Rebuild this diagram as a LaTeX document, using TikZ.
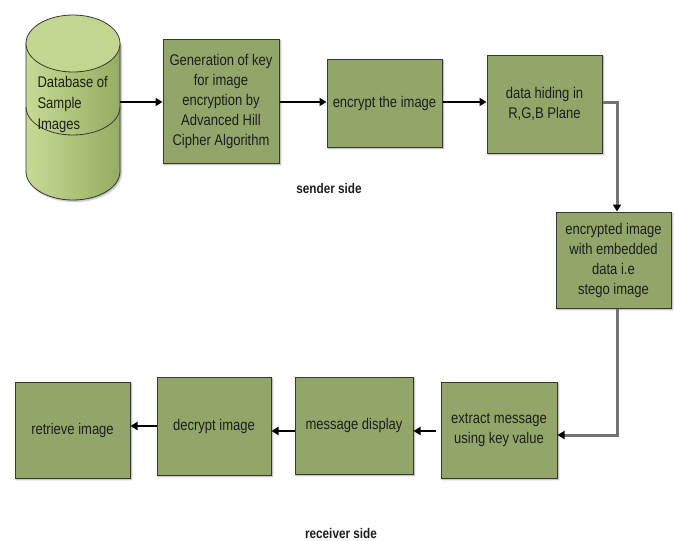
\documentclass[tikz,border=0pt]{standalone}
\usepackage{fontspec}
\setmainfont{Liberation Sans}[FakeStretch=0.84]
\usetikzlibrary{arrows.meta, positioning, shadows.blur}
\definecolor{colorBox}{RGB}{146,166,106}
\definecolor{colorEdge}{RGB}{55,55,55}
\definecolor{colorLink}{RGB}{115,115,115}
\definecolor{colorDbLight}{RGB}{198,218,148}
\definecolor{colorDbDark}{RGB}{150,172,98}
\definecolor{colorDbTop}{RGB}{194,214,144}
\definecolor{labelColor}{RGB}{30,30,30}

\begin{document}
\begin{tikzpicture}[
    x=1pt, y=-1pt,
    every node/.style={font=\fontsize{15.5}{20}\selectfont, text=labelColor},
    block/.style={
        draw=colorEdge, line width=1pt, fill=colorBox, align=center,
        inner sep=0pt, minimum width=115, minimum height=96,
        blur shadow={shadow xshift=1.5pt, shadow yshift=-1.5pt, shadow blur radius=1.5pt, shadow opacity=35}
    },
    flow/.style={-{Triangle[length=7pt, width=8pt]}, line width=1.8pt, color=black},
    link/.style={-{Triangle[length=7pt, width=8pt, color=black]}, line width=3pt, color=colorLink},
    side/.style={font=\fontsize{14}{16}\selectfont\bfseries}
]
    \useasboundingbox (0,0) rectangle (675,541);

    % Database cylinder, drawn by hand
    \shade[left color=colorDbLight, right color=colorDbDark, draw=colorEdge, line width=.8pt,
        blur shadow={shadow xshift=1.5pt, shadow yshift=-1.5pt, shadow blur radius=1.5pt, shadow opacity=30}]
        (26,43.5) -- (26,171.5) arc[start angle=180, end angle=0, x radius=47, y radius=28.5]
        -- (120,43.5) -- cycle;
    \filldraw[fill=colorDbTop, draw=colorEdge, line width=.8pt] (73,43.5) ellipse[x radius=47, y radius=28.5];
    \draw[colorEdge, line width=.8pt] (26,107) arc[start angle=180, end angle=0, x radius=47, y radius=28];
    \node[minimum width=94, minimum height=185, inner sep=0pt] (db) at (73,107.5) {};
    \node[anchor=west, align=left, font=\fontsize{15.5}{21}\selectfont] (dbtext) at (34,104) {Database of\\Sample\\Images};

    % Sender side
    \node[block, minimum width=116, minimum height=124] (keygen) at (221,101)
        {Generation of key\\for image\\encryption by\\Advanced Hill\\Cipher Algorithm};
    \node[block, minimum height=88] (encrypt) at (384.5,103) {encrypt the image};
    \node[block, minimum height=98] (hide) at (544.5,104) {data hiding in\\R,G,B Plane};
    \node[block] (stego) at (613.5,260) {encrypted image\\with embedded\\data i.e\\stego image};
    \node[side] (sender) at (329,188) {sender side};

    % Receiver side
    \node[block, minimum width=116] (extract) at (499,430) {extract message\\using key value};
    \node[block, minimum width=118, minimum height=97] (message) at (354,425.5) {message display};
    \node[block, minimum width=114, minimum height=98] (decrypt) at (214,426) {decrypt image};
    \node[block] (retrieve) at (72.5,430) {retrieve image};
    \node[side] (receiver) at (341,533) {receiver side};

    % Connectors
    \draw[flow] (db.east |- 0,102) -- (keygen.west |- 0,102);
    \draw[flow] (keygen.east |- 0,102) -- (encrypt.west |- 0,102);
    \draw[flow] (encrypt.east |- 0,102) -- (hide.west |- 0,102);
    \draw[link] (hide.east |- 0,102) -| ([xshift=3.5pt]stego.north);
    \draw[link] ([xshift=3.5pt]stego.south) |- ([yshift=-5pt]extract.east);
    \draw[flow] ([xshift=-5pt, yshift=-1pt]extract.west) -- ([yshift=-1pt]extract.west -| message.east);
    \draw[flow] ([yshift=-5.5pt]message.west) -- ([yshift=-5.5pt]message.west -| decrypt.east);
    \draw[flow] (decrypt.west) -- (decrypt.west -| retrieve.east);
\end{tikzpicture}
\end{document}
